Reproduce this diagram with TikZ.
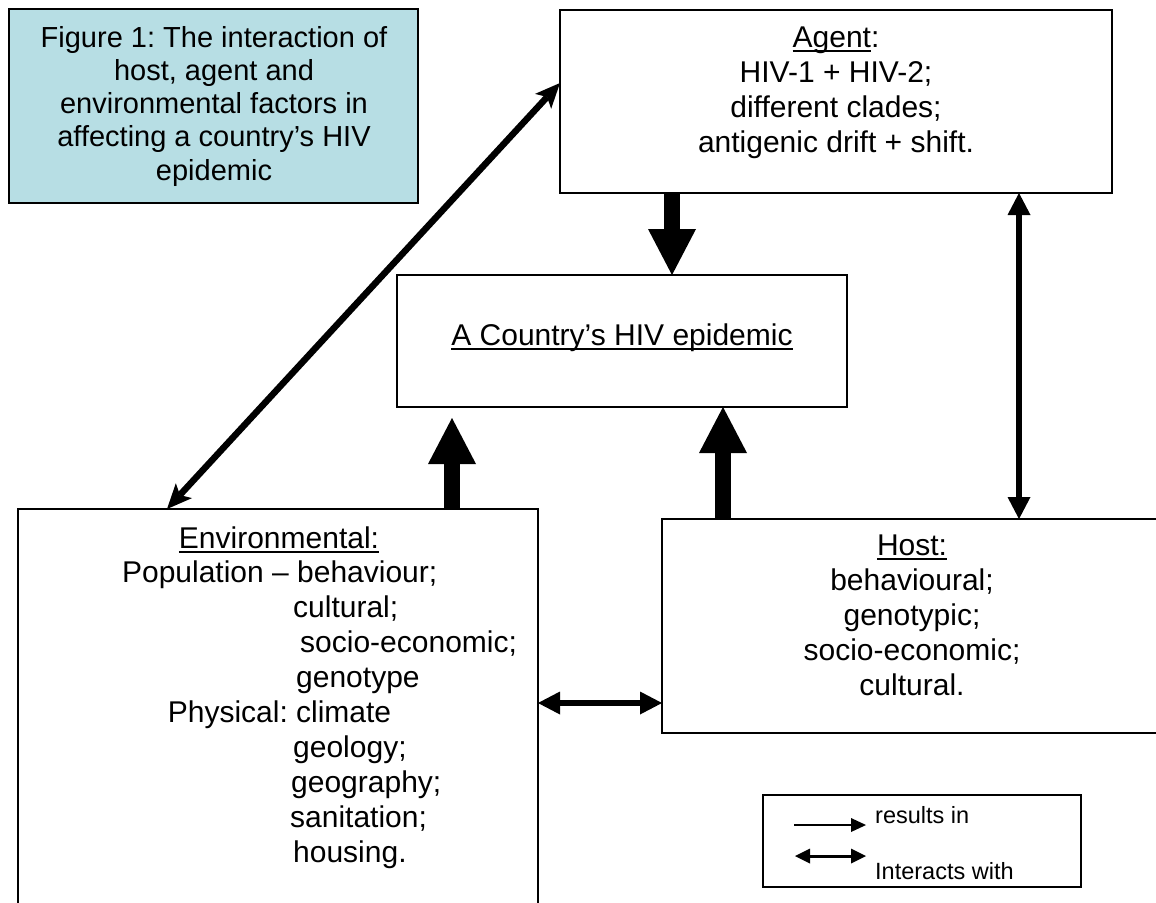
\documentclass[tikz,border=0pt]{standalone}
\usepackage{fontspec}
\setmainfont{Liberation Sans}
\usetikzlibrary{arrows.meta}
\definecolor{capblue}{RGB}{183,222,228}
\frenchspacing
% underline that runs through the descenders, as in the original
\newcommand{\undl}[1]{\setbox0\hbox{#1}\rlap{\rule[-5pt]{\wd0}{2pt}}\box0}

\begin{document}
\begin{tikzpicture}[x=1pt,y=-1pt,
    box/.style={draw,line width=1.5pt,inner sep=0pt,outer sep=0pt},
    txt/.style={font=\fontsize{30}{35}\selectfont,inner sep=0pt,anchor=base},
    captxt/.style={font=\fontsize{29}{33}\selectfont,inner sep=0pt,anchor=base},
    legtxt/.style={font=\fontsize{23.5}{28}\selectfont,inner sep=0pt,anchor=base west},
    fat/.style={line width=16pt,-{Triangle[length=46pt,width=48pt,line width=0pt]}},
    inter/.style={line width=6.5pt,{Triangle[length=22pt,width=23pt,line width=0pt]}-{Triangle[length=22pt,width=23pt,line width=0pt]}},
    slant/.style={line width=6.5pt,{Stealth[length=25pt,width=22pt,inset=6pt,line width=0pt]}-{Stealth[length=25pt,width=22pt,inset=6pt,line width=0pt]}},
    res/.style={line width=1.5pt,-{Triangle[length=15pt,width=14pt,line width=0pt]}},
    legdbl/.style={line width=3pt,{Triangle[length=15pt,width=15pt,line width=0pt]}-{Triangle[length=15pt,width=15pt,line width=0pt]}}]
  \path[use as bounding box,fill=white] (0,0) rectangle (1156,902);

  % boxes
  \node[box,fill=capblue,minimum width=409pt,minimum height=194pt] (caption) at (213.5,106) {};
  \node[box,minimum width=552pt,minimum height=183pt] (agent) at (836,101.5) {};
  \node[box,minimum width=450pt,minimum height=132pt] (country) at (622,341) {};
  \node[box,minimum width=520pt,minimum height=406pt] (env) at (278,712) {};
  \node[box,minimum width=500pt,minimum height=214pt] (host) at (912,626) {};
  \node[box,minimum width=318pt,minimum height=92pt] (legend) at (922,841) {};

  % caption
  \foreach \t [count=\i] in {Figure 1: The interaction of, {host, agent and},
      environmental factors in, affecting a country’s HIV, epidemic}
    { \node[captxt] (cap\i) at (214,13.7+33.3*\i) {\t}; }

  % agent
  \node[txt] (ag0) at (836,47) {\undl{Agent}:};
  \foreach \t [count=\i] in {HIV-1 + HIV-2;, different clades;, antigenic drift + shift.}
    { \node[txt] (ag\i) at (836,47+35*\i) {\t}; }

  \node[txt] (ctxt) at (622,345) {\undl{A Country’s HIV epidemic}};

  % host
  \node[txt] (ho0) at (912,555) {\undl{Host:}};
  \foreach \t [count=\i] in {behavioural;, genotypic;, socio-economic;, cultural.}
    { \node[txt] (ho\i) at (912,555+35*\i) {\t}; }

  % environmental, second column starts near x=295
  \node[txt] (en0) at (279,548) {\undl{Environmental:}};
  \foreach \x/\y/\t in {297/582/{\llap{Population -- }behaviour;}
                      ,293/617/cultural;
                      ,300/652/socio-economic;
                      ,296/687/genotype
                      ,296/722/{\llap{Physical: }climate}
                      ,293/757/geology;
                      ,291/792/geography;
                      ,290/827/sanitation;
                      ,293/862/housing.}
    { \node[txt,anchor=base west] (en\y) at (\x,\y) {\t}; }

  % results in
  \draw[fat] ([xshift=112pt]agent.south west) -- ([xshift=275pt]country.north west);
  \draw[fat] ([xshift=434pt]env.north west) -- ([xshift=55pt,yshift=-11pt]country.south west);
  \draw[fat] ([xshift=61pt]host.north west) -- ([xshift=326pt]country.south west);

  % interacts with
  \draw[slant] ([xshift=149pt]env.north west) -- ([yshift=-73pt]agent.north west);
  \draw[inter] ([xshift=459pt]agent.south west) -- ([xshift=357pt]host.north west);
  \draw[inter] ([yshift=9pt]env.east) -- ([yshift=-77pt]host.west);

  % legend
  \coordinate (r1) at (794,825);
  \coordinate (r2) at (866,825);
  \coordinate (i1) at (795,856);
  \coordinate (i2) at (866,856);
  \draw[res] (r1) -- (r2);
  \draw[legdbl] (i1) -- (i2);
  \node[legtxt] (lres) at (875,823) {results in};
  \node[legtxt] (lint) at (875,879) {Interacts with};
\end{tikzpicture}
\end{document}
